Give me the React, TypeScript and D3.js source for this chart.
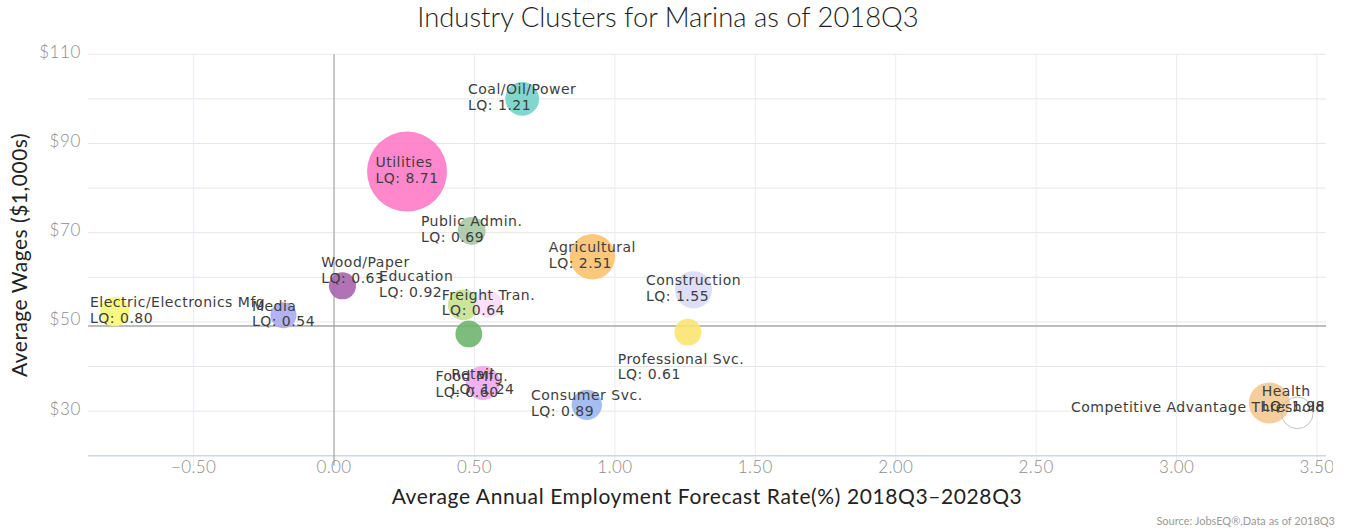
import React, { ReactElement, useEffect, useRef } from "react";
import * as d3 from "d3";

// industry clusters
const clusters = [
  "Electric/Electronics Mfg",
  "Media",
  "Wood/Paper",
  "Education",
  "Freight Tran.",
  "Public Admin.",
  "Utilities",
  "Coal/Oil/Power",
  "Agricultural",
  "Construction",
  "Professional Svc.",
  "Food Mfg.",
  "Retail",
  "Consumer Svc.",
  "Health",
];
const growthRate = [-0.78, -0.18, 0.03, 0.46, 0.55, 0.49, 0.26, 0.67, 0.92, 1.28, 1.26, 0.48, 0.53, 0.9, 3.33];
const avgWage = [52.3, 51.5, 58.1, 53.8, 54.0, 70.4, 83.7, 100.0, 64.6, 57.2, 47.7, 47.3, 36.3, 31.4, 31.8];
const locationQuotient = [0.8, 0.54, 0.63, 0.92, 0.64, 0.69, 8.71, 1.21, 2.51, 1.55, 0.61, 0.6, 1.24, 0.89, 1.98];

const thresholdName = "Competitive Advantage Threshold";
const thresholdGrowth = 3.43;
const thresholdWage = 29.6;
const thresholdLQ = 1;
const averageWage = 49.1;

const xTicks = [-0.5, 0, 0.5, 1, 1.5, 2, 2.5, 3, 3.5];
const yTicks = [30, 50, 70, 90, 110];
const yGrid = [30, 40, 50, 60, 70, 80, 90, 100, 110];

const colors: Record<string, string> = {
  "Electric/Electronics Mfg": "#f8f770",
  Media: "#a9a9f3",
  "Wood/Paper": "#a560ab",
  Education: "#c5e08e",
  "Freight Tran.": "#fcdcfb",
  "Public Admin.": "#a5c6a0",
  Utilities: "#ff77c5",
  "Coal/Oil/Power": "#71d0c7",
  Agricultural: "#fdc06a",
  Construction: "#dadafb",
  "Professional Svc.": "#fbe46d",
  "Food Mfg.": "#6ab36a",
  Retail: "#f0a6ee",
  "Consumer Svc.": "#99b5ee",
  Health: "#f5c78d",
};

// label nudges (px) where the original moved labels off their bubble
const nudge: Record<string, [number, number]> = {
  "Wood/Paper": [23, -14],
  Education: [-47, -19],
  "Professional Svc.": [-7, 36],
  "Food Mfg.": [3, 52],
  Health: [24, -3],
};

function BubbleChart(): ReactElement {
  const ref = useRef<SVGSVGElement>(null);
  useEffect(() => {
    drawChart();
  });
  const drawChart = () => {
    const width = 1346;
    const height = 531;
    const left = 88;
    const right = 1326;
    const top = 54.3;
    const bottom = 455.7;
    const x = d3.scaleLinear().domain([-0.876, 3.532]).range([left, right]);
    const y = d3.scaleLinear().domain([20, 110]).range([bottom, top]);
    const area = d3
      .scaleLinear()
      .domain([d3.min(locationQuotient) as number, d3.max(locationQuotient) as number])
      .range([13 * 13, 40 * 40]);
    const r = (v: number) => Math.sqrt(Math.max(area(v), 0));

    const svg = d3.select(ref.current).attr("width", width).attr("height", height);
    svg.selectAll("*").remove();

    // grid
    svg
      .append("g")
      .selectAll("line")
      .data(yGrid)
      .enter()
      .append("line")
      .attr("x1", left)
      .attr("x2", right)
      .attr("y1", (d) => y(d))
      .attr("y2", (d) => y(d))
      .attr("stroke", "#e6e6e6");
    svg
      .append("g")
      .selectAll("line")
      .data(xTicks)
      .enter()
      .append("line")
      .attr("x1", (d) => x(d))
      .attr("x2", (d) => x(d))
      .attr("y1", top)
      .attr("y2", bottom + 10)
      .attr("stroke", "#e8ecf2");

    // x axis line
    svg
      .append("line")
      .attr("x1", left)
      .attr("x2", right)
      .attr("y1", bottom)
      .attr("y2", bottom)
      .attr("stroke", "#ccd6eb")
      .attr("stroke-width", 1.5);

    // reference lines
    svg
      .append("line")
      .attr("x1", x(0))
      .attr("x2", x(0))
      .attr("y1", top)
      .attr("y2", bottom + 10)
      .attr("stroke", "#999")
      .attr("stroke-width", 1);
    svg
      .append("line")
      .attr("x1", left)
      .attr("x2", right)
      .attr("y1", y(averageWage))
      .attr("y2", y(averageWage))
      .attr("stroke", "#a6a6a6")
      .attr("stroke-width", 1.5);

    // tick labels
    svg
      .append("g")
      .selectAll("text")
      .data(yTicks)
      .enter()
      .append("text")
      .attr("x", left - 7)
      .attr("y", (d) => y(d) + 3.5)
      .attr("text-anchor", "end")
      .attr("font-family", "Lato")
      .attr("font-size", 17)
      .attr("font-weight", 300)
      .attr("letter-spacing", 0.6)
      .attr("fill", "#8c8c8c")
      .text((d) => "$" + d);
    svg
      .append("defs")
      .append("clipPath")
      .attr("id", "tick-clip")
      .append("rect")
      .attr("x", 0)
      .attr("y", 0)
      .attr("width", 1333)
      .attr("height", height);
    svg
      .append("g")
      .attr("clip-path", "url(#tick-clip)")
      .selectAll("text")
      .data(xTicks)
      .enter()
      .append("text")
      .attr("x", (d) => x(d))
      .attr("y", 473)
      .attr("text-anchor", "middle")
      .attr("font-family", "Lato")
      .attr("font-size", 17)
      .attr("font-weight", 300)
      .attr("letter-spacing", 0.4)
      .attr("fill", "#8c8c8c")
      .text((d) => d3.format(".2f")(d).replace("-", "\u2212"));

    // titles
    svg
      .append("text")
      .attr("x", width / 2 - 5)
      .attr("y", 27)
      .attr("text-anchor", "middle")
      .attr("font-family", "Lato")
      .attr("font-size", 27.4)
      .attr("font-weight", 300)
      .attr("fill", "#1e1e1e")
      .text("Industry Clusters for Marina as of 2018Q3");
    svg
      .append("text")
      .attr("x", (left + right) / 2)
      .attr("y", 504)
      .attr("text-anchor", "middle")
      .attr("font-family", "Lato")
      .attr("font-size", 21)
      .attr("letter-spacing", 0.6)
      .attr("fill", "#222")
      .text("Average Annual Employment Forecast Rate(%) 2018Q3\u20132028Q3");
    svg
      .append("text")
      .attr("transform", `translate(27,${(top + bottom) / 2}) rotate(-90)`)
      .attr("text-anchor", "middle")
      .attr("font-family", "Lato")
      .attr("font-size", 21)
      .attr("letter-spacing", 0.5)
      .attr("fill", "#222")
      .text("Average Wages ($1,000s)");
    svg
      .append("text")
      .attr("x", 1335)
      .attr("y", 525)
      .attr("text-anchor", "end")
      .attr("font-family", "Lato")
      .attr("font-size", 11)
      .attr("fill", "#999")
      .text("Source: JobsEQ\u00ae,Data as of 2018Q3");

    // bubbles
    const data = clusters.map((name, i) => ({
      name,
      gx: growthRate[i],
      wage: avgWage[i],
      lq: locationQuotient[i],
    }));
    svg
      .append("g")
      .selectAll("circle")
      .data(data)
      .enter()
      .append("circle")
      .attr("cx", (d) => x(d.gx))
      .attr("cy", (d) => y(d.wage))
      .attr("r", (d) => r(d.lq))
      .attr("fill", (d) => colors[d.name])
      .attr("fill-opacity", 0.88);
    svg
      .append("circle")
      .attr("cx", x(thresholdGrowth))
      .attr("cy", y(thresholdWage))
      .attr("r", r(thresholdLQ))
      .attr("fill", "none")
      .attr("stroke", "#c4c4c4")
      .attr("stroke-width", 1);

    // data labels
    const labels = svg
      .append("g")
      .attr("font-family", "DejaVu Sans")
      .attr("font-size", 14)
      .attr("letter-spacing", 0.5)
      .attr("fill", "#3d3d3d");
    const placeLabel = (lines: string[], cx: number, cy: number, off: [number, number]) => {
      const t = labels.append("text");
      const spans = lines.map((ln, i) =>
        t
          .append("tspan")
          .attr("x", 0)
          .attr("y", cy - 4.5 + i * 15.5 + off[1])
          .text(ln)
      );
      const w = (t.node() as SVGTextElement).getBBox().width;
      let lx = cx + off[0] - w / 2;
      if (lx < left + 2) lx = left + 2;
      if (lx + w > right - 1) lx = right - 1 - w;
      spans.forEach((s) => s.attr("x", lx));
    };
    data.forEach((d) =>
      placeLabel([d.name, "LQ: " + d3.format(".2f")(d.lq)], x(d.gx), y(d.wage), nudge[d.name] || [0, 0])
    );
    placeLabel([thresholdName], x(thresholdGrowth), y(thresholdWage), [0, 4]);
  };
  return (
    <div style={{ position: "absolute", left: 0, top: 0 }}>
      <svg ref={ref} style={{ display: "block" }}></svg>
    </div>
  );
}

export default function App(): ReactElement {
  return <BubbleChart />;
}
